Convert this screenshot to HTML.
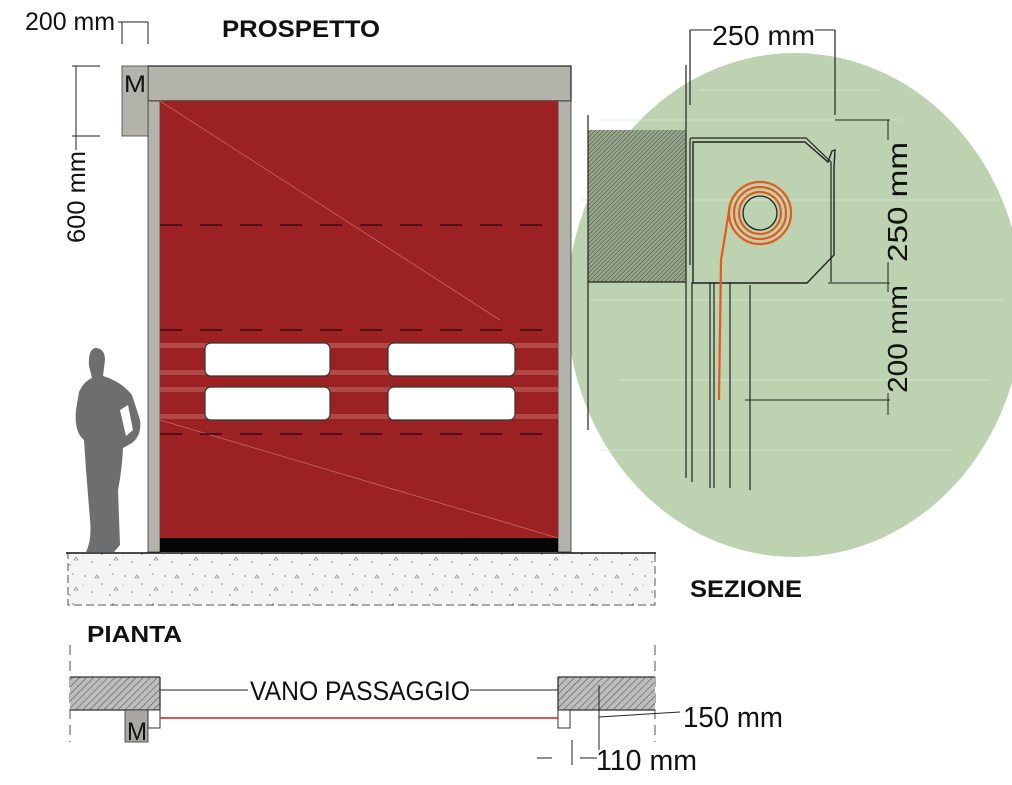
<!DOCTYPE html>
<html><head><meta charset="utf-8"><style>
html,body{margin:0;padding:0;background:#fff;}
svg{display:block;}
text{font-family:"Liberation Sans",sans-serif;}
</style></head><body>
<svg width="1012" height="785" viewBox="0 0 1012 785" xmlns="http://www.w3.org/2000/svg">
<defs>
<pattern id="hatch" width="5" height="5" patternUnits="userSpaceOnUse" patternTransform="rotate(45)">
<rect width="5" height="5" fill="#bdbdbd"/><line x1="0" y1="0" x2="0" y2="5" stroke="#555" stroke-width="1.2"/>
</pattern>
<pattern id="hatch2" width="3" height="3" patternUnits="userSpaceOnUse" patternTransform="rotate(45)">
<rect width="3" height="3" fill="#9aa890"/><line x1="0" y1="0" x2="0" y2="3" stroke="#3d4a38" stroke-width="1"/>
</pattern>
<pattern id="conc" width="40" height="30" patternUnits="userSpaceOnUse">
<rect width="40" height="30" fill="#f4f4f4"/>
<circle cx="5" cy="6" r="0.8" fill="#777"/><circle cx="22" cy="14" r="0.8" fill="#777"/><circle cx="33" cy="4" r="0.7" fill="#777"/>
<circle cx="12" cy="22" r="0.8" fill="#777"/><circle cx="30" cy="25" r="0.7" fill="#777"/><path d="M17 5l2 3h-4z" fill="none" stroke="#777" stroke-width="0.6"/>
<path d="M36 17l2 3h-4z" fill="none" stroke="#777" stroke-width="0.6"/><circle cx="3" cy="15" r="0.5" fill="#999"/>
</pattern>
</defs>

<ellipse cx="795" cy="305" rx="228" ry="252" fill="#bcd2b0"/>
<g stroke="#dbe7d4" stroke-width="1" opacity="0.8">
<line x1="600" y1="120" x2="900" y2="120"/><line x1="580" y1="200" x2="1000" y2="200"/><line x1="590" y1="300" x2="1005" y2="300"/>
<line x1="620" y1="380" x2="990" y2="380"/><line x1="600" y1="450" x2="950" y2="450"/><line x1="700" y1="90" x2="880" y2="90"/>
</g>
<rect x="588" y="130" width="98" height="152" fill="url(#hatch2)"/>
<line x1="588" y1="282" x2="686" y2="282" stroke="#222" stroke-width="1.2"/>
<line x1="588" y1="115" x2="588" y2="430" stroke="#222" stroke-width="1.2"/>
<g stroke="#222" stroke-width="1.2">
<line x1="686" y1="65" x2="686" y2="478"/>
<line x1="692" y1="282" x2="692" y2="482"/>
<line x1="710" y1="282" x2="710" y2="488"/>
<line x1="714" y1="282" x2="714" y2="488"/>
<line x1="730" y1="282" x2="730" y2="488"/>
<line x1="750" y1="285" x2="750" y2="490"/>
<line x1="690" y1="30" x2="690" y2="105"/>
<line x1="835" y1="30" x2="835" y2="115"/>
</g>
<path d="M690 265 V140 Q690 138 692 138 H806 L831 162 V282" fill="none" stroke="#222" stroke-width="1.2"/>
<path d="M693 265 V142 H805 L828 162 L832 151 L835 150 L834 168 V255 L807 283 H693 V265" fill="none" stroke="#222" stroke-width="1.4"/>
<circle cx="760" cy="213" r="17" fill="none" stroke="#222" stroke-width="1.3"/>
<g fill="none" stroke="#e55a16" stroke-width="2.2">
<circle cx="760" cy="213" r="21"/><circle cx="760" cy="213" r="26"/><circle cx="760" cy="213" r="31"/>
<path d="M730 205 L721 260 L719 400"/>
</g>
<g stroke="#222" stroke-width="1" fill="#222">
<line x1="690" y1="30" x2="712" y2="30"/><line x1="815" y1="30" x2="835" y2="30"/>
<line x1="835" y1="120" x2="890" y2="120"/>
<line x1="828" y1="283" x2="890" y2="283"/>
<line x1="745" y1="400" x2="890" y2="400"/>
<line x1="888" y1="120" x2="888" y2="140"/><line x1="888" y1="262" x2="888" y2="292"/><line x1="888" y1="393" x2="888" y2="415"/>
</g>
<text x="712" y="45" font-size="28" fill="#111" textLength="103" lengthAdjust="spacingAndGlyphs">250 mm</text>
<text transform="translate(907,262) rotate(-90)" font-size="28" fill="#111" textLength="120" lengthAdjust="spacingAndGlyphs">250 mm</text>
<text transform="translate(907,393) rotate(-90)" font-size="28" fill="#111" textLength="108" lengthAdjust="spacingAndGlyphs">200 mm</text>
<text x="690" y="597" font-size="24" font-weight="bold" fill="#111" textLength="112" lengthAdjust="spacingAndGlyphs">SEZIONE</text>

<rect x="68" y="553" width="587" height="52" fill="url(#conc)"/>
<rect x="68" y="553" width="587" height="52" fill="none" stroke="#555" stroke-dasharray="8 4" stroke-width="1"/>
<line x1="66" y1="553" x2="656" y2="553" stroke="#111" stroke-width="1.5"/>

<rect x="148" y="66" width="423" height="35" fill="#b3b2ab" stroke="#222" stroke-width="1.2"/>
<rect x="148" y="101" width="12" height="451" fill="#b3b2ab" stroke="#333" stroke-width="0.8"/>
<rect x="558" y="101" width="13" height="451" fill="#b3b2ab" stroke="#333" stroke-width="0.8"/>
<rect x="122" y="66" width="26" height="70" fill="#b3b2ab" stroke="#444" stroke-width="0.8"/>
<text x="124" y="92" font-size="24" fill="#111" textLength="22" lengthAdjust="spacingAndGlyphs">M</text>
<rect x="160" y="101" width="398" height="439" fill="#9b2122"/>
<rect x="160" y="538" width="398" height="14" fill="#050505"/>
<g stroke="#d07a76" stroke-width="0.8" opacity="0.8">
<line x1="160" y1="101" x2="500" y2="320"/>
<line x1="160" y1="420" x2="558" y2="538"/>
</g>
<g fill="#c46a66" opacity="0.55">
<rect x="160" y="343" width="398" height="5"/><rect x="160" y="370" width="398" height="5"/>
<rect x="160" y="387" width="398" height="5"/><rect x="160" y="414" width="398" height="5"/>
</g>
<g stroke="#3a0a0a" stroke-width="1.5" stroke-dasharray="22 18">
<line x1="160" y1="225" x2="558" y2="225"/><line x1="160" y1="330" x2="558" y2="330"/><line x1="160" y1="434" x2="558" y2="434"/>
</g>
<g fill="#fff" stroke="#333" stroke-width="1.2">
<rect x="205" y="343" width="125" height="33" rx="6"/><rect x="388" y="343" width="127" height="33" rx="6"/>
<rect x="205" y="387" width="125" height="33" rx="6"/><rect x="388" y="387" width="127" height="33" rx="6"/>
</g>

<path d="M95 348 Q105 348 105 360 L103 376 Q122 382 132 395 L140 420 Q142 435 132 443 L123 448 Q122 470 118 490 L120 545 L114 552 L86 552 Q92 540 90 520 L86 470 L84 440 Q74 432 76 410 L79 392 Q84 381 92 378 L89 366 Q88 350 95 348 Z" fill="#6d6e70"/>
<path d="M120 410 L126 436 L133 430 L128 405 Z" fill="#fff"/>

<g stroke="#222" stroke-width="1" fill="none">
<line x1="118" y1="22" x2="148" y2="22"/><line x1="122" y1="22" x2="122" y2="44"/><line x1="148" y1="22" x2="148" y2="44"/>
<line x1="76" y1="66" x2="76" y2="136"/><line x1="72" y1="66" x2="100" y2="66"/><line x1="72" y1="136" x2="100" y2="136"/>
<line x1="76" y1="136" x2="76" y2="150"/>
</g>
<text x="25" y="30" font-size="25" fill="#111" textLength="90" lengthAdjust="spacingAndGlyphs">200 mm</text>
<text transform="translate(85,243) rotate(-90)" font-size="25" fill="#111" textLength="92" lengthAdjust="spacingAndGlyphs">600 mm</text>
<text x="222" y="37" font-size="24" font-weight="bold" fill="#111" textLength="158" lengthAdjust="spacingAndGlyphs">PROSPETTO</text>

<text x="87" y="642" font-size="23" font-weight="bold" fill="#111" textLength="95" lengthAdjust="spacingAndGlyphs">PIANTA</text>
<g stroke="#555" stroke-width="1" stroke-dasharray="10 6">
<line x1="70" y1="645" x2="70" y2="742"/><line x1="655" y1="645" x2="655" y2="742"/>
</g>
<rect x="70" y="677" width="90" height="33" fill="url(#hatch)"/>
<rect x="558" y="677" width="97" height="33" fill="url(#hatch)"/>
<g stroke="#333" stroke-width="1.3">
<line x1="70" y1="677" x2="160" y2="677"/><line x1="70" y1="710" x2="160" y2="710"/><line x1="160" y1="677" x2="160" y2="710"/>
<line x1="558" y1="677" x2="655" y2="677"/><line x1="558" y1="710" x2="655" y2="710"/><line x1="558" y1="677" x2="558" y2="710"/>
</g>
<rect x="125" y="710" width="23" height="32" fill="#a8a7a1" stroke="#333" stroke-width="0.8"/>
<text x="127" y="740" font-size="25" fill="#111" textLength="20" lengthAdjust="spacingAndGlyphs">M</text>
<rect x="148" y="710" width="12" height="18" fill="#fff" stroke="#333"/>
<rect x="558" y="710" width="12" height="18" fill="#fff" stroke="#333"/>
<line x1="160" y1="718" x2="558" y2="718" stroke="#c82020" stroke-width="1.5"/>
<g stroke="#222" stroke-width="1">
<line x1="160" y1="690" x2="248" y2="690"/><line x1="470" y1="690" x2="558" y2="690"/>
<line x1="599" y1="685" x2="599" y2="750"/>
<line x1="599" y1="717" x2="680" y2="712"/>
<line x1="537" y1="758" x2="552" y2="758"/><line x1="580" y1="758" x2="597" y2="758"/>
<line x1="572" y1="740" x2="572" y2="765"/>
</g>
<text x="250" y="700" font-size="27" fill="#111" textLength="220" lengthAdjust="spacingAndGlyphs">VANO PASSAGGIO</text>
<text x="683" y="727" font-size="29" fill="#111" textLength="100" lengthAdjust="spacingAndGlyphs">150 mm</text>
<text x="596" y="770" font-size="29" fill="#111" textLength="101" lengthAdjust="spacingAndGlyphs">110 mm</text>
</svg>
</body></html>
